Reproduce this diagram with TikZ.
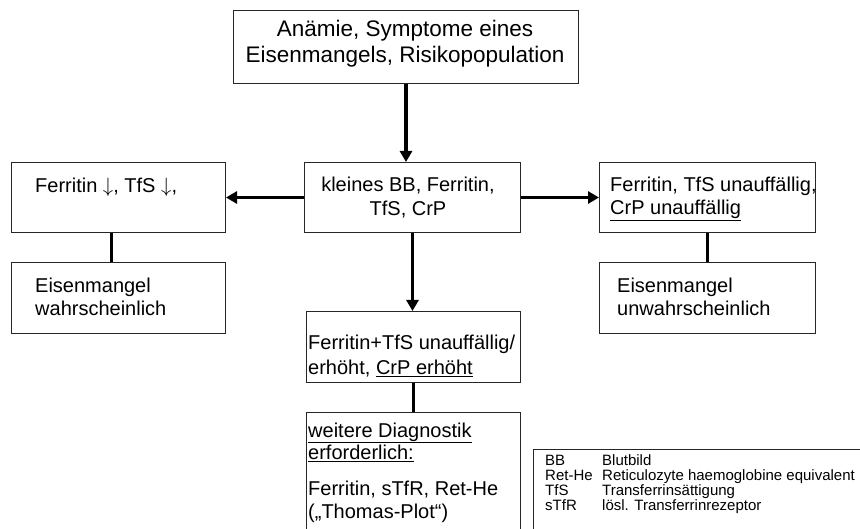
\documentclass[tikz,border=0pt]{standalone}
\usepackage{fontspec}
\setmainfont{Liberation Sans}
\usetikzlibrary{arrows.meta}
\begin{document}
\begin{tikzpicture}[x=1pt,y=-1pt,
  box/.style={draw=black!85, line width=1pt, inner sep=0pt, anchor=north west},
  txt/.style={inner sep=0pt, anchor=base west, font=\fontsize{20}{24}\selectfont},
  ctxt/.style={inner sep=0pt, anchor=base, font=\fontsize{20}{24}\selectfont},
  ttl/.style={inner sep=0pt, anchor=base, font=\fontsize{22.5}{26}\selectfont},
  leg/.style={inner sep=0pt, anchor=base west, font=\fontsize{15}{15}\selectfont},
  arr/.style={line width=3.5pt, -{Triangle[length=11pt,width=12pt]}},
  link/.style={line width=3.5pt}]
\useasboundingbox (0,0) rectangle (860,529);
\fill[white] (0,0) rectangle (860,529);
% boxes
\node[box, minimum width=345pt, minimum height=73pt] (top) at (233,10) {};
\node[box, minimum width=216pt, minimum height=70pt] (center) at (304,162) {};
\node[box, minimum width=214pt, minimum height=70pt] (left) at (11,162) {};
\node[box, minimum width=214pt, minimum height=71pt] (leftlow) at (11,262) {};
\node[box, minimum width=216pt, minimum height=70pt] (right) at (599,162) {};
\node[box, minimum width=216pt, minimum height=71pt] (rightlow) at (599,262) {};
\node[box, minimum width=214pt, minimum height=71pt] (mid) at (306,311) {};
\node[box, minimum width=214pt, minimum height=130pt] (bottom) at (306,412) {};
\node[box, minimum width=340pt, minimum height=100pt] (legend) at (533,449) {};
% texts
\node[ttl] (t1) at (405,37) {Anämie, Symptome eines};
\node[ttl] (t2) at (405,63) {Eisenmangels, Risikopopulation};
\node[ctxt] (c1) at (408,192) {kleines BB, Ferritin,};
\node[ctxt] (c2) at (408,216) {TfS, CrP};
\node[txt] (l1) at (35,193) {Ferritin $\downarrow$, TfS $\downarrow$,};
\node[txt] (ll1) at (35,293) {Eisenmangel};
\node[txt] (ll2) at (35,316) {wahrscheinlich};
\node[txt] (r1) at (610,192) {Ferritin, TfS unauffällig,};
\node[txt] (r2) at (610,215) {\underline{CrP unauffällig}};
\node[txt] (rl1) at (617,293) {Eisenmangel};
\node[txt] (rl2) at (617,316) {unwahrscheinlich};
\node[txt] (m1) at (308,350) {Ferritin+TfS unauffällig/};
\node[txt] (m2) at (308,375) {erhöht, \underline{CrP erhöht}};
\node[txt] (b1) at (308,437) {\underline{weitere Diagnostik}};
\node[txt] (b2) at (308,460) {\underline{erforderlich:}};
\node[txt] (b3) at (308,495) {Ferritin, sTfR, Ret-He};
\node[txt] (b4) at (308,518) {(„Thomas-Plot“)};
\node[leg] (g1a) at (545,465) {BB};
\node[leg] (g1b) at (602,465) {Blutbild};
\node[leg] (g2a) at (545,480) {Ret-He};
\node[leg] (g2b) at (602,480) {Reticulozyte haemoglobine equivalent};
\node[leg] (g3a) at (545,495) {TfS};
\node[leg] (g3b) at (602,495) {Transferrinsättigung};
\node[leg] (g4a) at (545,510) {sTfR};
\node[leg] (g4b) at (602,510) {lösl. Transferrinrezeptor};
% connectors
\draw[arr] (top.south) -- (top.south |- center.north);
\draw[arr] (center.west) -- (center.west -| left.east);
\draw[arr] (center.east) -- (center.east -| right.west);
\draw[arr] (center.south) -- (center.south |- mid.north);
\draw[link] ([xshift=-7pt]left.south) -- ([xshift=-7pt]left.south |- leftlow.north);
\draw[link] (right.south) -- (right.south |- rightlow.north);
\draw[link] (mid.south) -- (mid.south |- bottom.north);
\end{tikzpicture}
\end{document}
